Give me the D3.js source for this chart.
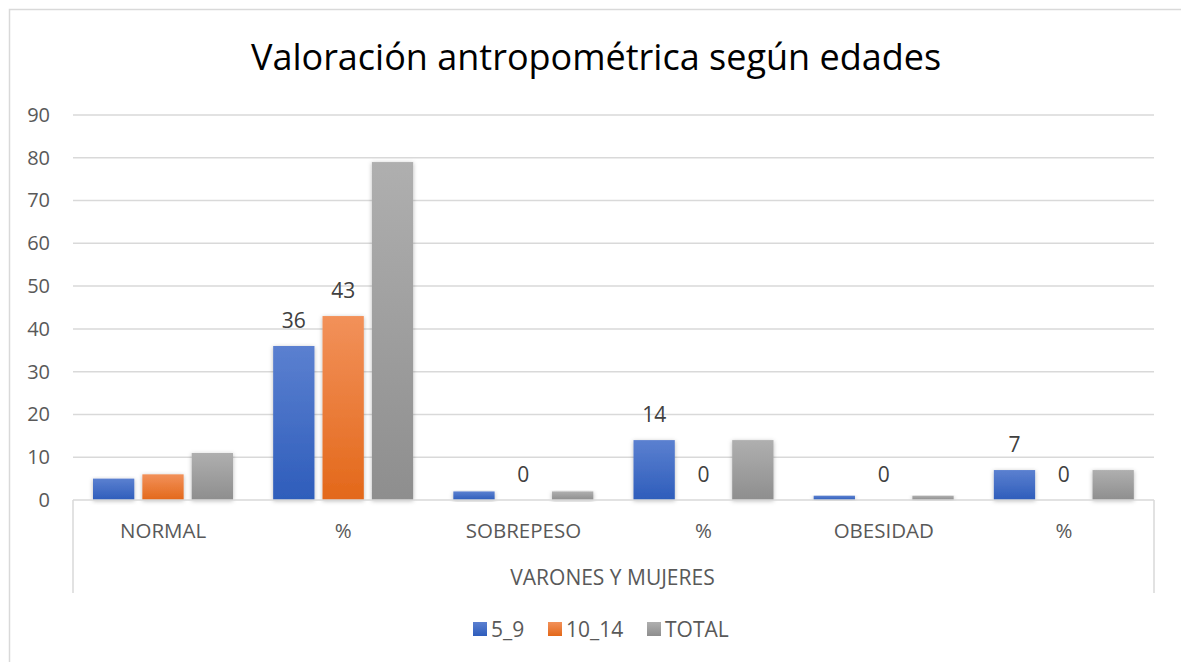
<!DOCTYPE html>
<html><head><meta charset="utf-8">
<script src="https://cdn.jsdelivr.net/npm/d3@7"></script>
<style>body{margin:0;background:#fff}svg{display:block}text{font-family:"Open Sans",sans-serif}</style>
</head><body>
<svg id="c" width="1181" height="662"></svg>
<script>
const title = "Valoración antropométrica según edades";
const categories = ["NORMAL", "%", "SOBREPESO", "%", "OBESIDAD", "%"];
const outerCategory = "VARONES Y MUJERES";
const seriesNames = ["5_9", "10_14", "TOTAL"];
const s5_9 = [5, 36, 2, 14, 1, 7];
const s10_14 = [6, 43, 0, 0, 0, 0];
const sTotal = [11, 79, 2, 14, 1, 7];
const labelIdx5_9 = [1, 3, 5];
const labelIdx10_14 = [1, 2, 3, 4, 5];
const labelIdxTotal = [];
const yTicks = [0, 10, 20, 30, 40, 50, 60, 70, 80, 90];

const seriesVals = [s5_9, s10_14, sTotal];
const seriesLabels = [labelIdx5_9, labelIdx10_14, labelIdxTotal];
const colors = [["#5b80d0", "#2e5dbb"], ["#f2915a", "#e3681a"], ["#afafaf", "#8e8e8e"]];
const FF = "'Open Sans',sans-serif";

const svg = d3.select("#c");
const defs = svg.append("defs");
colors.forEach((c, i) => {
  const g = defs.append("linearGradient").attr("id", "g" + i).attr("x1", 0).attr("y1", 0).attr("x2", 0).attr("y2", 1);
  g.append("stop").attr("offset", "0%").attr("stop-color", c[0]);
  g.append("stop").attr("offset", "100%").attr("stop-color", c[1]);
});
const f = defs.append("filter").attr("id", "sh").attr("x", "-30%").attr("y", "-10%").attr("width", "160%").attr("height", "130%");
f.append("feDropShadow").attr("dx", 0).attr("dy", 1).attr("stdDeviation", 2.2).attr("flood-color", "#000").attr("flood-opacity", 0.28);

svg.append("path").attr("d", "M9.5,662 L9.5,9.5 L1181,9.5").attr("fill", "none").attr("stroke", "#d9d9d9").attr("stroke-width", 1.5);

svg.append("text").attr("x", 596).attr("y", 70).attr("text-anchor", "middle")
  .attr("font-size", 36).attr("fill", "#000").text(title);

const left = 73, right = 1154;
const y = d3.scaleLinear().domain([0, 90]).range([500, 115]);
const x0 = d3.scaleBand().domain(d3.range(categories.length)).range([left, right]);
const x1 = d3.scaleBand().domain(d3.range(seriesNames.length)).range([20, 160]).paddingInner(8 / 49);

svg.append("g").selectAll("line").data(yTicks.filter(t => t > 0)).join("line")
  .attr("x1", left).attr("x2", right).attr("y1", d => y(d)).attr("y2", d => y(d))
  .attr("stroke", "#d9d9d9").attr("stroke-width", 1.5);

const ya = svg.append("g").attr("transform", `translate(${left},0)`)
  .call(d3.axisLeft(y).tickValues(yTicks).tickSize(0).tickPadding(23));
ya.select(".domain").remove();
ya.selectAll("text").attr("font-size", 20).attr("fill", "#595959").style("font-family", FF);

seriesVals.forEach((vals, si) => {
  svg.append("g").selectAll("rect").data(vals).join("rect")
    .attr("x", (d, i) => x0(i) + x1(si)).attr("width", x1.bandwidth())
    .attr("y", d => y(d)).attr("height", d => y(0) - y(d))
    .attr("fill", `url(#g${si})`).attr("filter", "url(#sh)");
});

svg.append("line").attr("x1", left).attr("x2", right).attr("y1", y(0)).attr("y2", y(0)).attr("stroke", "#d9d9d9").attr("stroke-width", 1.5);
svg.append("line").attr("x1", left).attr("x2", left).attr("y1", y(0)).attr("y2", 593).attr("stroke", "#d9d9d9").attr("stroke-width", 1.5);
svg.append("line").attr("x1", right).attr("x2", right).attr("y1", y(0)).attr("y2", 593).attr("stroke", "#d9d9d9").attr("stroke-width", 1.5);

seriesVals.forEach((vals, si) => {
  svg.append("g").selectAll("text").data(seriesLabels[si]).join("text")
    .attr("x", i => x0(i) + x1(si) + x1.bandwidth() / 2).attr("y", i => y(vals[i]) - 18)
    .attr("text-anchor", "middle").attr("font-size", 21).attr("fill", "#404040").text(i => vals[i]);
});

const xa = svg.append("g").attr("transform", `translate(0,${y(0)})`)
  .call(d3.axisBottom(x0).tickSize(0).tickPadding(23).tickFormat(i => categories[i]));
xa.select(".domain").remove();
xa.selectAll("text").attr("font-size", 20.5).attr("fill", "#595959").attr("dy", "0.71em").style("font-family", FF);

svg.append("text").attr("x", (left + right) / 2 - 1).attr("y", 585).attr("text-anchor", "middle")
  .attr("font-size", 21).attr("fill", "#595959").text(outerCategory);

const legX = [473, 548, 647];
const lg = svg.append("g");
seriesNames.forEach((n, i) => {
  lg.append("rect").attr("x", legX[i]).attr("y", 622).attr("width", 14).attr("height", 14).attr("fill", `url(#g${i})`);
  lg.append("text").attr("x", legX[i] + 18).attr("y", 637).attr("font-size", 21).attr("fill", "#595959").text(n);
});
</script>
</body></html>
